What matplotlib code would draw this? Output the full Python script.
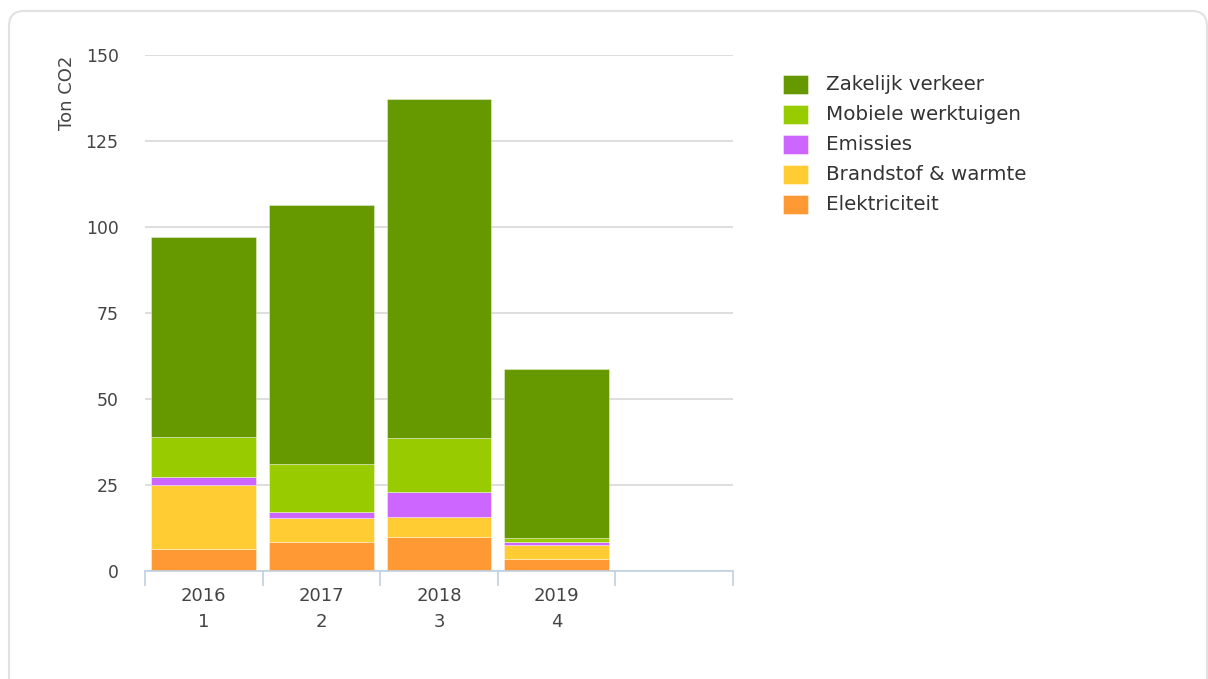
import matplotlib
matplotlib.use("Agg")
import matplotlib.pyplot as plt
from matplotlib.patches import FancyBboxPatch, Rectangle

years = ["2016", "2017", "2018", "2019"]
periods = ["1", "2", "3", "4"]
series_names = ["Elektriciteit", "Brandstof & warmte", "Emissies", "Mobiele werktuigen", "Zakelijk verkeer"]
elektriciteit = [6.5, 8.4, 10.0, 3.5]
brandstof = [18.5, 6.9, 5.8, 4.1]
emissies = [2.4, 1.9, 7.3, 0.9]
mobiele = [11.6, 13.8, 15.5, 1.0]
zakelijk = [58.1, 75.4, 98.6, 49.2]
colors = ["#FF9933", "#FFCC33", "#CC66FF", "#99CC00", "#669900"]
yticks = [0, 25, 50, 75, 100, 125, 150]

plt.rcParams['font.family'] = ['DejaVu Sans']
W, H = 1208, 679
fig = plt.figure(figsize=(W/100, H/100), dpi=100)

# pixel overlay for card frame and legend
bg = fig.add_axes([0, 0, 1, 1], zorder=-1)
bg.set_xlim(0, W)
bg.set_ylim(H, 0)
bg.axis('off')
bg.add_patch(FancyBboxPatch((9, 11), 1198, 690, boxstyle="round,pad=0,rounding_size=15",
                            fill=False, edgecolor="#e2e2e2", linewidth=1.5))

ax = fig.add_axes([145/W, 1-571/H, (733-145)/W, (571-55)/H])
data = [elektriciteit, brandstof, emissies, mobiele, zakelijk]
x = list(range(len(years)))
bottom = [0]*len(years)
for vals, c, name in zip(data, colors, series_names):
    ax.bar(x, vals, bottom=bottom, width=0.89, color=c, edgecolor=(1, 1, 1, 0.45),
           linewidth=0.6, label=name, zorder=3)
    bottom = [bo + v for bo, v in zip(bottom, vals)]

ax.set_xlim(-0.5, 4.5)
ax.set_ylim(0, 150)
ax.set_yticks(yticks)
ax.set_yticklabels([str(t) for t in yticks], fontsize=12.4, color="#444444")
ax.yaxis.grid(True, color="#d8d8d8", linewidth=1.2, zorder=0)
ax.tick_params(axis='y', length=0, pad=19)
ax.set_xticks([i - 0.5 for i in range(6)])
ax.set_xticklabels([])
ax.tick_params(axis='x', length=11, color="#c0d0e0", width=1.2, direction='out')
for i, (yr, p) in enumerate(zip(years, periods)):
    ax.text(i, 1 - (596 - 55) / 516, yr, transform=ax.get_xaxis_transform(), ha='center', va='center',
            fontsize=13, color="#444444")
    ax.text(i, 1 - (622 - 55) / 516, p, transform=ax.get_xaxis_transform(), ha='center', va='center',
            fontsize=13, color="#444444")
for s in ["top", "right", "left"]:
    ax.spines[s].set_visible(False)
ax.spines["bottom"].set_color("#c0d0e0")
ax.spines["bottom"].set_linewidth(1.2)
ax.spines["bottom"].set_zorder(4)

bg.text(67, 93, "Ton CO2", rotation=90, ha='center', va='center', fontsize=13, color="#444444")

# legend (manual placement)
labels_order = ["Zakelijk verkeer", "Mobiele werktuigen", "Emissies", "Brandstof & warmte", "Elektriciteit"]
for k, name in enumerate(labels_order):
    cy = 84 + k * 30.2
    c = colors[series_names.index(name)]
    bg.add_patch(Rectangle((783, cy - 9.5), 25, 19, facecolor=c,
                           edgecolor=(1, 1, 1, 0.5), linewidth=0.6))
    bg.text(826, cy, name, ha='left', va='center', fontsize=14.3, color="#333333")

fig.savefig("out.png", dpi=100)
